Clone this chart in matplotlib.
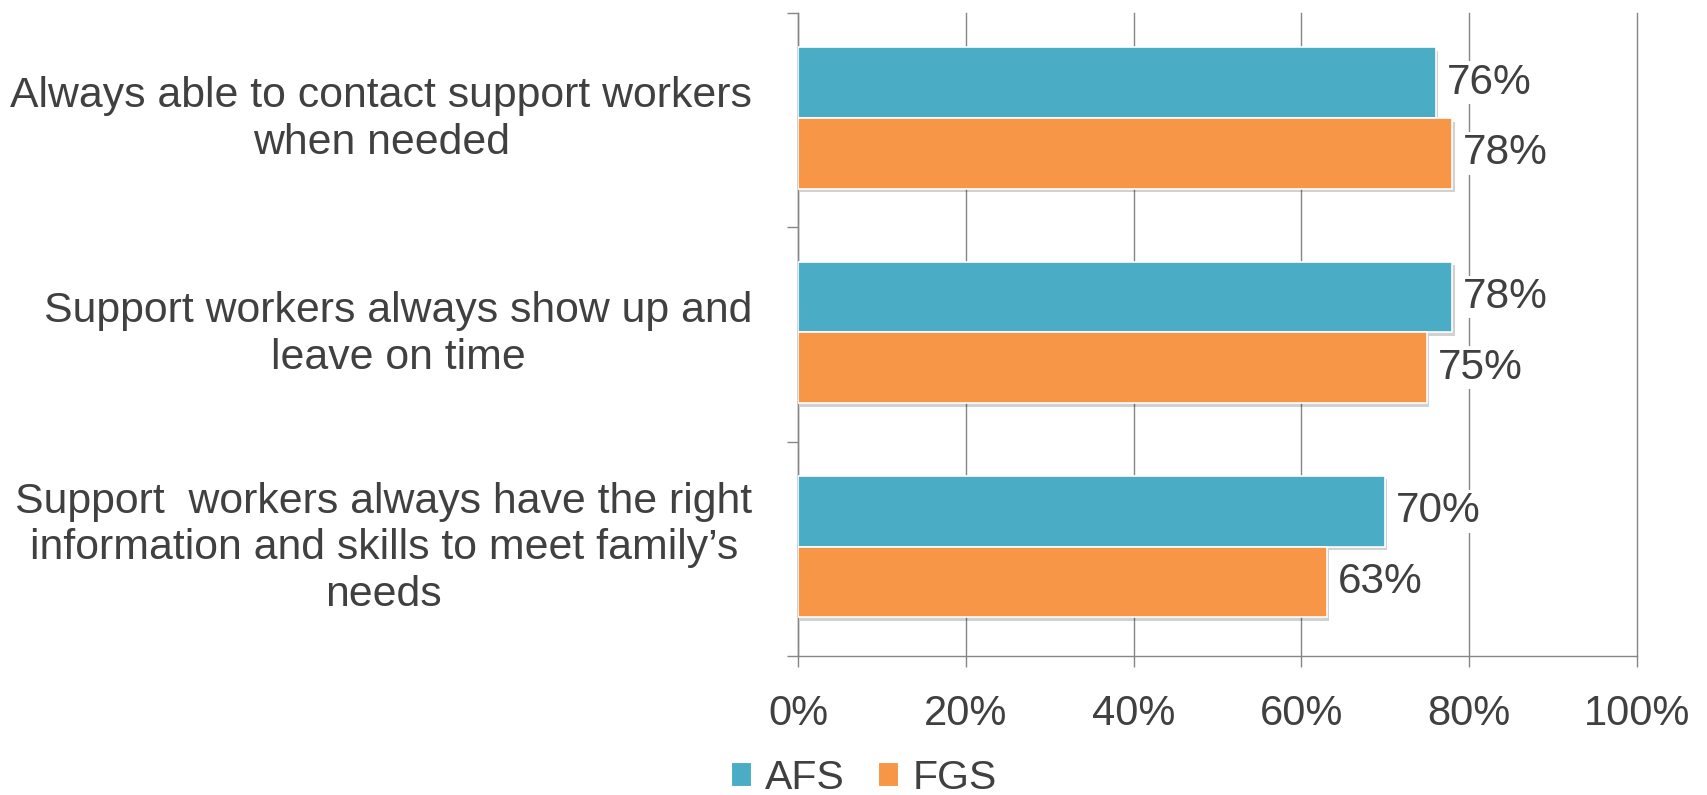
import matplotlib.pyplot as plt
import matplotlib.patheffects as pe
import matplotlib.transforms as mtransforms
from matplotlib.patches import Patch
from matplotlib.ticker import FuncFormatter

plt.rcParams['font.family'] = ['Liberation Sans', 'DejaVu Sans']

categories = [
    'Always able to contact support workers\nwhen needed',
    'Support workers always show up and\nleave on time',
    'Support  workers always have the right\ninformation and skills to meet family\u2019s\nneeds',
]
afs = [76, 78, 70]
fgs = [78, 75, 63]
series = ['AFS', 'FGS']
colors = ['#4BACC6', '#F79646']
text_color = '#404040'
grid_color = '#868686'

fig = plt.figure(figsize=(17.07, 7.95), dpi=100)
ax = fig.add_axes([0.4675, 0.1748, 0.959 - 0.4675, 0.9836 - 0.1748])

centers = [i + 0.5 for i in range(len(categories))]
h = 0.33
shadow = [pe.SimplePatchShadow(offset=(1.5, -2.5), shadow_rgbFace='#000000', alpha=0.18), pe.Normal()]

for vals, off, col in [(afs, -0.175, colors[0]), (fgs, 0.155, colors[1])]:
    ys = [c + off for c in centers]
    bars = ax.barh(ys, vals, height=h, color=col, edgecolor='white', linewidth=1.2, zorder=3)
    for b in bars:
        b.set_path_effects(shadow)
    for y, v in zip(ys, vals):
        ax.text(v + 1.3, y, f'{v}%', va='center', ha='left', fontsize=30.5, color=text_color, zorder=4,
                bbox=dict(facecolor='white', edgecolor='none', pad=1))

ax.set_xlim(0, 100)
ax.set_ylim(3, 0)
ax.set_xticks(range(0, 101, 20))
ax.xaxis.set_major_formatter(FuncFormatter(lambda v, p: f'{v:.0f}%'))
ax.set_yticks(centers)
ax.set_yticklabels(categories, multialignment='center', linespacing=1.22)
ax.set_yticks([0, 1, 2, 3], minor=True)

ax.tick_params(axis='y', which='major', length=0, pad=33, labelsize=30.8, labelcolor=text_color)
ax.tick_params(axis='y', which='minor', length=8, width=1.0, color=grid_color)
ax.tick_params(axis='x', which='major', length=8, width=1.0, color=grid_color, pad=19,
               labelsize=30, labelcolor=text_color)

# nudge the category labels up a little
lift = mtransforms.ScaledTranslation(0, 6 / 72, fig.dpi_scale_trans)
for lab in ax.get_yticklabels():
    lab.set_transform(lab.get_transform() + lift)

ax.grid(axis='x', color=grid_color, linewidth=1.0, zorder=0)
for gl in ax.get_xgridlines():
    gl.set_clip_on(False)
ax.set_axisbelow(True)
for s in ['top', 'right']:
    ax.spines[s].set_visible(False)
for s in ['left', 'bottom']:
    ax.spines[s].set_color(grid_color)
    ax.spines[s].set_linewidth(1.0)

handles = [Patch(facecolor=c, edgecolor='white', linewidth=0.8) for c in colors]
fig.legend(handles, series, loc='center', bbox_to_anchor=(0.506, 0.022), ncol=2, frameon=False,
           fontsize=29.5, labelcolor=text_color, handlelength=0.5, handleheight=0.5,
           handletextpad=0.35, columnspacing=0.8)

fig.savefig('out.png', dpi=100)
